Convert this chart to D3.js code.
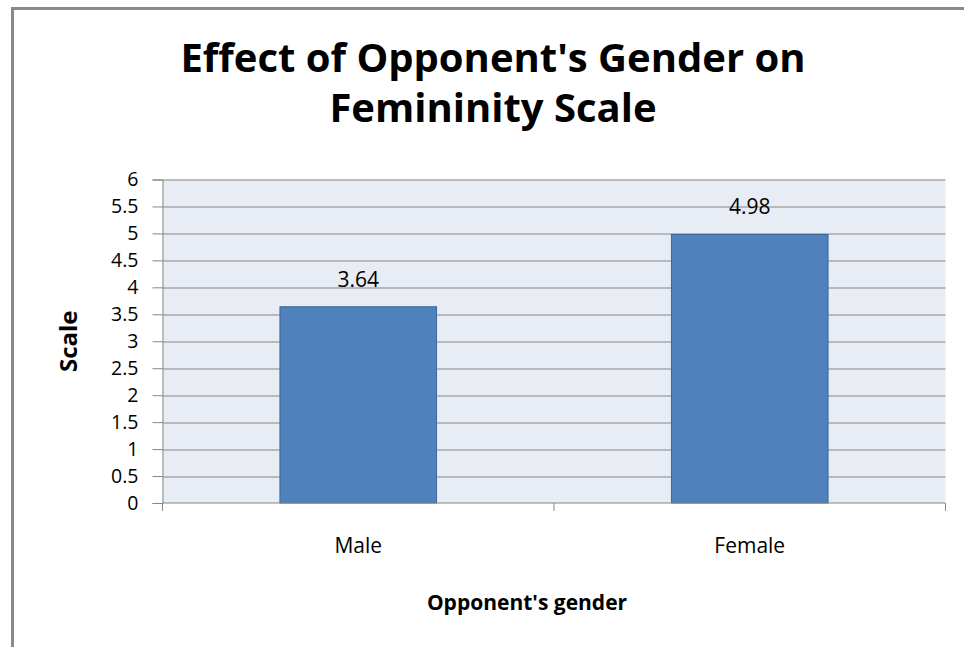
<!DOCTYPE html>
<html>
<head>
<meta charset="utf-8">
<script src="https://d3js.org/d3.v7.min.js"></script>
<style>
  body { margin: 0; background: #fff; }
  text { font-family: "Open Sans", sans-serif; }
</style>
</head>
<body>
<div id="chart"></div>
<script>
  // chart data
  var categories = ["Male", "Female"];
  var values = [3.64, 4.98];
  var yTicks = [0, 0.5, 1, 1.5, 2, 2.5, 3, 3.5, 4, 4.5, 5, 5.5, 6];
  var titleLines = ["Effect of Opponent's Gender on", "Femininity Scale"];

  var W = 964, H = 647;
  var margin = { top: 179.5, right: 18.5, bottom: 144, left: 162.5 },
    width = W - margin.left - margin.right,
    height = H - margin.top - margin.bottom;

  var svg = d3.select("#chart").append("svg")
    .attr("width", W)
    .attr("height", H);

  // outer frame (only top and left visible in the crop)
  svg.append("path")
    .attr("d", "M12.5," + H + "V8.5H" + W)
    .attr("fill", "none")
    .attr("stroke", "#898989")
    .attr("stroke-width", 3);

  // title
  svg.append("g").selectAll("text")
    .data(titleLines)
    .enter().append("text")
    .attr("x", 493)
    .attr("y", function (d, i) { return 72 + i * 50; })
    .attr("text-anchor", "middle")
    .style("font-size", "40px")
    .style("font-weight", "bold")
    .attr("fill", "#000")
    .text(function (d) { return d; });

  var g = svg.append("g")
    .attr("transform", "translate(" + margin.left + "," + margin.top + ")");

  var x = d3.scaleBand()
    .domain(categories)
    .range([0, width])
    .paddingInner(0.6)
    .paddingOuter(0.3);

  var y = d3.scaleLinear()
    .domain([0, 6])
    .range([height, 0]);

  // plot background
  g.append("rect")
    .attr("width", width)
    .attr("height", height)
    .attr("fill", "#e8ecf4");

  // gridlines
  g.selectAll(".grid")
    .data(yTicks.slice(1))
    .enter().append("line")
    .attr("x1", 0)
    .attr("x2", width)
    .attr("y1", function (d) { return Math.round(y(d)) + 0.5; })
    .attr("y2", function (d) { return Math.round(y(d)) + 0.5; })
    .attr("stroke", "#868686")
    .attr("stroke-width", 1);

  // bars
  g.selectAll(".bar")
    .data(values)
    .enter().append("rect")
    .attr("class", "bar")
    .attr("x", function (d, i) { return x(categories[i]); })
    .attr("width", x.bandwidth())
    .attr("y", function (d) { return y(d); })
    .attr("height", function (d) { return height - y(d); })
    .attr("fill", "#4f81bd")
    .attr("stroke", "#3c6796")
    .attr("stroke-width", 1);

  // data labels
  g.selectAll(".lbl")
    .data(values)
    .enter().append("text")
    .attr("x", function (d, i) { return x(categories[i]) + x.bandwidth() / 2; })
    .attr("y", function (d) { return y(d) - 20; })
    .attr("text-anchor", "middle")
    .style("font-size", "21px")
    .attr("fill", "#000")
    .text(function (d) { return d; });

  // y axis
  var yAxis = g.append("g")
    .call(d3.axisLeft(y).tickValues(yTicks).tickSize(10).tickPadding(14)
      .tickFormat(function (d) { return d; }));
  yAxis.select(".domain").attr("stroke", "#868686");
  yAxis.selectAll(".tick line").attr("stroke", "#868686");
  yAxis.selectAll(".tick text")
    .style("font-size", "19.5px")
    .attr("fill", "#000");

  // x axis
  var xAxis = g.append("g")
    .attr("transform", "translate(0," + height + ")")
    .call(d3.axisBottom(x).tickSize(0).tickPadding(35));
  xAxis.select(".domain").attr("stroke", "#868686").attr("d", "M0,0H" + width);
  xAxis.selectAll(".tick text")
    .style("font-size", "21px")
    .attr("fill", "#000");

  // category separators ticks
  g.selectAll(".sep")
    .data([0, width / 2, width])
    .enter().append("line")
    .attr("x1", function (d) { return d; })
    .attr("x2", function (d) { return d; })
    .attr("y1", height)
    .attr("y2", height + 8)
    .attr("stroke", "#868686");

  // axis titles
  svg.append("text")
    .attr("transform", "translate(77," + (margin.top + height / 2) + ") rotate(-90)")
    .attr("text-anchor", "middle")
    .style("font-size", "24px")
    .style("font-weight", "bold")
    .text("Scale");

  svg.append("text")
    .attr("x", 527)
    .attr("y", 610)
    .attr("text-anchor", "middle")
    .style("font-size", "21px")
    .style("font-weight", "bold")
    .text("Opponent's gender");
</script>
</body>
</html>
